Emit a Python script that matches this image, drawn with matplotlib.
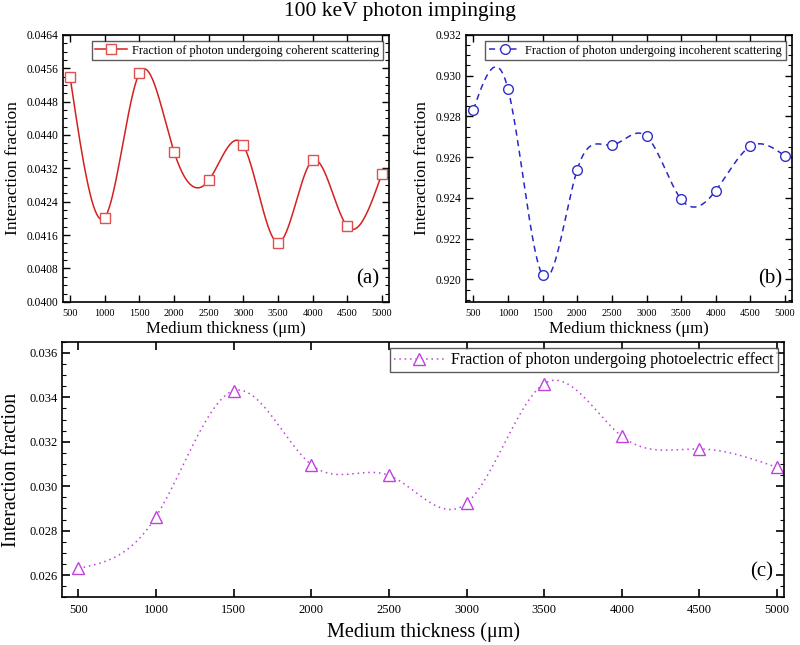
import numpy as np
import matplotlib.pyplot as plt
from matplotlib.ticker import MultipleLocator, FormatStrFormatter

plt.rcParams['font.family'] = ['Liberation Serif', 'DejaVu Serif']
plt.rcParams['mathtext.fontset'] = 'stix'

thickness = [500, 1000, 1500, 2000, 2500, 3000, 3500, 4000, 4500, 5000]
coherent = [0.04538, 0.04202, 0.04548, 0.04360, 0.04291, 0.04375, 0.04142, 0.04339, 0.04181, 0.04307]
incoherent = [0.92832, 0.92935, 0.92020, 0.92539, 0.92659, 0.92702, 0.92393, 0.92436, 0.92653, 0.92605]
photoelectric = [0.02630, 0.02863, 0.03430, 0.03097, 0.03049, 0.02923, 0.03462, 0.03225, 0.03168, 0.03085]


def spline(x, y, n=400):
    # natural cubic spline through the points
    x = np.asarray(x, float)
    y = np.asarray(y, float)
    k = len(x)
    h = np.diff(x)
    A = np.zeros((k, k))
    b = np.zeros(k)
    A[0, 0] = A[-1, -1] = 1
    for i in range(1, k - 1):
        A[i, i - 1] = h[i - 1]
        A[i, i] = 2 * (h[i - 1] + h[i])
        A[i, i + 1] = h[i]
        b[i] = 3 * ((y[i + 1] - y[i]) / h[i] - (y[i] - y[i - 1]) / h[i - 1])
    c = np.linalg.solve(A, b)
    xs = np.linspace(x[0], x[-1], n)
    idx = np.clip(np.searchsorted(x, xs) - 1, 0, k - 2)
    dx = xs - x[idx]
    bb = (y[1:] - y[:-1]) / h - h * (2 * c[:-1] + c[1:]) / 3
    d = (c[1:] - c[:-1]) / (3 * h)
    ys = y[idx] + bb[idx] * dx + c[idx] * dx ** 2 + d[idx] * dx ** 3
    return xs, ys


def style(ax, ysteps, yfmt, tsize_x, tsize_y):
    ax.tick_params(which='both', direction='in', top=True, right=True)
    ax.tick_params(which='major', length=5, width=1)
    ax.tick_params(which='minor', length=3, width=0.8)
    ax.tick_params(axis='x', labelsize=tsize_x, pad=5)
    ax.tick_params(axis='y', labelsize=tsize_y)
    ax.xaxis.set_major_locator(MultipleLocator(500))
    ax.yaxis.set_major_locator(MultipleLocator(ysteps))
    ax.yaxis.set_minor_locator(MultipleLocator(ysteps / 4))
    ax.yaxis.set_major_formatter(FormatStrFormatter(yfmt))
    for s in ax.spines.values():
        s.set_linewidth(1.2)


fig = plt.figure(figsize=(8, 6.45), dpi=100)
fig.text(0.5, 0.982, '100 keV photon impinging', ha='center', va='center', fontsize=15.5)

# (a) coherent
ax1 = fig.add_axes([0.079, 0.532, 0.407, 0.414])
xs, ys = spline(thickness, coherent)
ax1.plot(xs, ys, color='#d42020', lw=1.1)
ax1.plot(thickness, coherent, ls='none', marker='s', ms=7, mfc='white', mec='#e05050', mew=1)
ax1.plot([], [], color='#d42020', lw=1.1, marker='s', ms=7, mfc='white', mec='#e05050',
         label='Fraction of photon undergoing coherent scattering')
ax1.set_xlim(400, 5100)
ax1.set_ylim(0.0400, 0.0464)
style(ax1, 0.0008, '%.4f', 7.5, 8.3)
ax1.set_ylabel('Interaction fraction', fontsize=12.5, labelpad=4)
ax1.set_xlabel('Medium thickness (μm)', fontsize=12, labelpad=2)
ax1.legend(loc='upper right', fontsize=8.8, frameon=True, fancybox=False, edgecolor='#333333',
           handlelength=2.6, borderpad=0.3, handletextpad=0.4, borderaxespad=0.5)
ax1.text(0.97, 0.05, '(a)', transform=ax1.transAxes, ha='right', va='bottom', fontsize=15)

# (b) incoherent
ax2 = fig.add_axes([0.583, 0.532, 0.407, 0.414])
xs, ys = spline(thickness, incoherent)
ax2.plot(xs, ys, color='#2828c8', lw=1.1, ls=(0, (4, 3)))
ax2.plot(thickness, incoherent, ls='none', marker='o', ms=7, mfc='white', mec='#3030c8', mew=1)
ax2.plot([], [], color='#2828c8', lw=1.1, ls=(0, (4, 3)), marker='o', ms=7, mfc='white', mec='#3030c8',
         label='Fraction of photon undergoing incoherent scattering')
ax2.set_xlim(400, 5100)
ax2.set_ylim(0.9189, 0.932)
style(ax2, 0.002, '%.3f', 7.5, 8.3)
ax2.set_ylabel('Interaction fraction', fontsize=12.5, labelpad=4)
ax2.set_xlabel('Medium thickness (μm)', fontsize=12, labelpad=2)
ax2.legend(loc='upper right', fontsize=8.8, frameon=True, fancybox=False, edgecolor='#333333',
           handlelength=2.6, borderpad=0.3, handletextpad=0.4, borderaxespad=0.5)
ax2.text(0.97, 0.05, '(b)', transform=ax2.transAxes, ha='right', va='bottom', fontsize=15)

# (c) photoelectric
ax3 = fig.add_axes([0.078, 0.074, 0.902, 0.396])
xs, ys = spline(thickness, photoelectric)
ax3.plot(xs, ys, color='#c040e0', lw=1.1, ls=(0, (1, 2.5)))
ax3.plot(thickness, photoelectric, ls='none', marker='^', ms=8, mfc='white', mec='#c040e0', mew=1)
ax3.plot([], [], color='#c040e0', lw=1.1, ls=(0, (1, 2.5)), marker='^', ms=8, mfc='white', mec='#c040e0',
         label='Fraction of photon undergoing photoelectric effect')
ax3.set_xlim(397, 5045)
ax3.set_ylim(0.0250, 0.0365)
style(ax3, 0.002, '%.3f', 9, 9)
ax3.tick_params(which='major', length=6, width=1.2)
ax3.set_ylabel('Interaction fraction', fontsize=14.5, labelpad=6)
ax3.set_xlabel('Medium thickness (μm)', fontsize=14.5, labelpad=4)
ax3.legend(loc='upper right', fontsize=11.5, frameon=True, fancybox=False, edgecolor='#333333',
           handlelength=3.2, borderpad=0.25, handletextpad=0.4, borderaxespad=0.4)
ax3.text(0.985, 0.06, '(c)', transform=ax3.transAxes, ha='right', va='bottom', fontsize=15)

fig.savefig('out.png', dpi=100)
